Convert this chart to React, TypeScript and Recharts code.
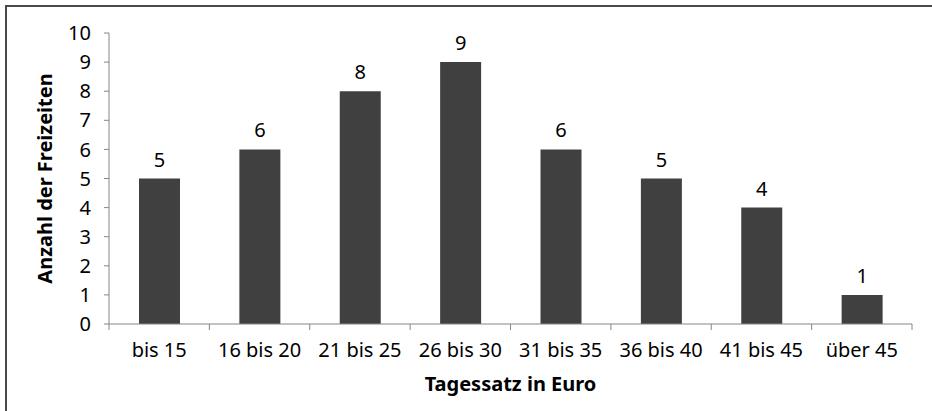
import { BarChart, Bar, XAxis, YAxis, LabelList, Label } from "recharts"

/* Tagessätze der Freizeiten */
const categories = [
  "bis 15", "16 bis 20", "21 bis 25", "26 bis 30",
  "31 bis 35", "36 bis 40", "41 bis 45", "über 45",
]
const counts = [5, 6, 8, 9, 6, 5, 4, 1]
const yTicks = [0, 1, 2, 3, 4, 5, 6, 7, 8, 9, 10]

const FONT = "'Noto Sans', sans-serif"
const AXIS = "#868686"
const BAR = "#404040"
const FS = 20
const X_TICK = 6
const X_MARGIN = 13

const data = categories.map((cat, i) => ({ cat, value: counts[i] }))

/* Excel-Stil: Teilstriche zwischen den Kategorien statt in der Mitte */
function CategoryTick(props: any) {
  const { x, y, payload, index } = props
  const half = payload.offset ?? 0
  const axisY = y - X_TICK - X_MARGIN
  const last = index === categories.length - 1
  return (
    <g>
      <line x1={x - half} x2={x - half} y1={axisY} y2={axisY + X_TICK} stroke={AXIS} />
      {last && <line x1={x + half} x2={x + half} y1={axisY} y2={axisY + X_TICK} stroke={AXIS} />}
      <text x={x} y={y} dy="0.71em" textAnchor="middle" fontSize={FS} fontFamily={FONT} fill="#000">
        {payload.value}
      </text>
    </g>
  )
}

export default function App() {
  return (
    <div style={{ position: "absolute", left: 0, top: 0, width: 932, height: 411, overflow: "hidden", background: "#fff", fontFamily: FONT }}>
      <div style={{
        position: "absolute", left: 5, top: 5, width: 1000, height: 1000,
        borderTop: "2px solid #4a4a4a", borderLeft: "2px solid #4a4a4a",
      }} />
      <BarChart width={932} height={411} data={data}
        margin={{ top: 33, right: 20, left: 0, bottom: 12 }}
        style={{ position: "absolute", left: 0, top: 0 }}>
        <XAxis dataKey="cat" height={75} axisLine={{ stroke: AXIS }} tickLine={false}
          tickSize={X_TICK} tickMargin={X_MARGIN} interval={0}
          tick={<CategoryTick />}>
          <Label content={({ viewBox }: any) => (
            <text x={viewBox.x + viewBox.width / 2} y={viewBox.y + 59}
              textAnchor="middle" dominantBaseline="central"
              fontSize={FS} fontWeight={700} fontFamily={FONT} fill="#000">
              Tagessatz in Euro
            </text>
          )} />
        </XAxis>
        <YAxis width={109} domain={[0, 10]} ticks={yTicks} interval={0}
          tickSize={5} tickMargin={13}
          axisLine={{ stroke: AXIS }} tickLine={{ stroke: AXIS }}
          tick={{ fontSize: FS, fill: "#000", fontFamily: FONT }}>
          <Label content={({ viewBox }: any) => {
            const cx = viewBox.x + 44
            const cy = viewBox.y + viewBox.height / 2
            return (
              <text x={cx} y={cy} transform={`rotate(-90, ${cx}, ${cy})`}
                textAnchor="middle" dominantBaseline="central"
                fontSize={FS} fontWeight={700} fontFamily={FONT} fill="#000">
                Anzahl der Freizeiten
              </text>
            )
          }} />
        </YAxis>
        <Bar dataKey="value" fill={BAR} barSize={41} isAnimationActive={false}>
          <LabelList dataKey="value" position="top" offset={12}
            style={{ fontSize: FS, fill: "#000", fontFamily: FONT }} />
        </Bar>
      </BarChart>
    </div>
  )
}
